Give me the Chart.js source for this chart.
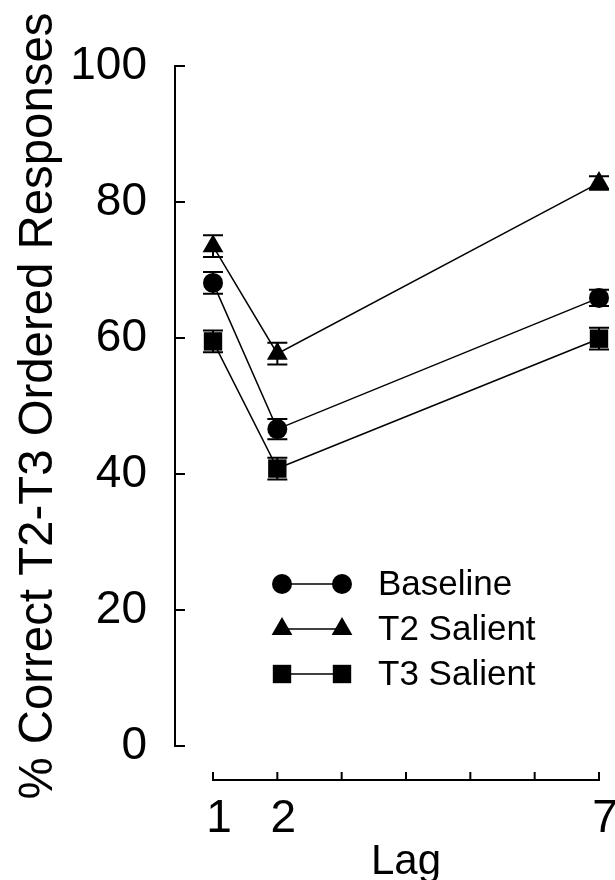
<!DOCTYPE html>
<html>
<head>
<meta charset="utf-8">
<script src="https://cdn.jsdelivr.net/npm/chart.js@4/dist/chart.umd.min.js"></script>
<style>
  html, body { margin: 0; padding: 0; background: #fff; }
  #wrap { width: 615px; height: 880px; }
</style>
</head>
<body>
<div id="wrap"><canvas id="chart" width="615" height="880"></canvas></div>
<script>
// Data
const lags = [1, 2, 7];
const xTicks = [1, 2, 3, 4, 5, 6, 7];
const xLabelled = [1, 2, 7];
const yTicks = [0, 20, 40, 60, 80, 100];

const seriesNames = ['Baseline', 'T2 Salient', 'T3 Salient'];
const baseline = [68.1, 46.6, 65.9];
const t2Salient = [73.5, 57.7, 82.8];
const t3Salient = [59.5, 40.8, 59.9];
const baselineErr = [1.6, 1.5, 1.2];
const t2SalientErr = [1.6, 1.6, 1.0];
const t3SalientErr = [1.6, 1.6, 1.6];

const FONT = '"Liberation Sans", Arial, sans-serif';

function toPoints(values) {
    return values.map((v, i) => ({ x: lags[i], y: v }));
}

function makeDataset(label, values, errors, style, radius) {
    return {
        label: label,
        data: toPoints(values),
        errors: errors,
        borderColor: '#000',
        borderWidth: 1.5,
        backgroundColor: '#000',
        pointStyle: style,
        pointRadius: radius,
        pointBackgroundColor: '#000',
        pointBorderColor: '#000',
        pointBorderWidth: 0,
        tension: 0,
        clip: false
    };
}

// marker shapes like Chart.js' own point styles, for the legend
function drawMarker(ctx, style, x, y, r) {
    ctx.beginPath();
    if (style === 'circle') {
        ctx.arc(x, y, r, 0, Math.PI * 2);
    } else if (style === 'triangle') {
        ctx.moveTo(x, y - r);
        ctx.lineTo(x + r * Math.sin(Math.PI * 2 / 3), y + r / 2);
        ctx.lineTo(x - r * Math.sin(Math.PI * 2 / 3), y + r / 2);
        ctx.closePath();
    } else {
        const s = r * Math.SQRT1_2;
        ctx.rect(x - s, y - s, 2 * s, 2 * s);
    }
    ctx.fill();
}

const figurePlugin = {
    id: 'figure',
    beforeDatasetsDraw(chart) {
        const ctx = chart.ctx;
        const xs = chart.scales.x;
        const ys = chart.scales.y;
        const area = chart.chartArea;
        ctx.save();
        ctx.strokeStyle = '#000';
        ctx.lineWidth = 2;
        ctx.lineCap = 'butt';

        // detached y axis
        const ax = area.left - 38;
        ctx.beginPath();
        ctx.moveTo(ax, ys.getPixelForValue(100));
        ctx.lineTo(ax, ys.getPixelForValue(0));
        yTicks.forEach(t => {
            const py = ys.getPixelForValue(t);
            ctx.moveTo(ax - 1, py);
            ctx.lineTo(ax + 10, py);
        });
        ctx.stroke();

        // detached x axis
        const ay = area.bottom + 34;
        ctx.beginPath();
        ctx.moveTo(xs.getPixelForValue(1) - 1, ay);
        ctx.lineTo(xs.getPixelForValue(7) + 1, ay);
        xTicks.forEach(t => {
            const px = xs.getPixelForValue(t);
            ctx.moveTo(px, ay + 1);
            ctx.lineTo(px, ay - 8);
        });
        ctx.stroke();

        // y axis title
        const title = '% Correct T2-T3 Ordered Responses';
        ctx.font = '48px ' + FONT;
        ctx.fillStyle = '#000';
        ctx.textAlign = 'center';
        ctx.textBaseline = 'alphabetic';
        const w = ctx.measureText(title).width;
        ctx.translate(52, 406);
        ctx.rotate(-Math.PI / 2);
        ctx.scale(787 / w, 1);
        ctx.fillText(title, 0, 0);
        ctx.restore();
    },
    afterDatasetsDraw(chart) {
        const ctx = chart.ctx;
        const xs = chart.scales.x;
        const ys = chart.scales.y;
        ctx.save();
        ctx.strokeStyle = '#000';
        ctx.lineWidth = 2;
        chart.data.datasets.forEach(ds => {
            ds.data.forEach((p, i) => {
                const e = ds.errors[i];
                const px = xs.getPixelForValue(p.x);
                const top = ys.getPixelForValue(p.y + e);
                const bot = ys.getPixelForValue(p.y - e);
                ctx.beginPath();
                ctx.moveTo(px, top);
                ctx.lineTo(px, bot);
                ctx.moveTo(px - 10, top);
                ctx.lineTo(px + 10, top);
                ctx.moveTo(px - 10, bot);
                ctx.lineTo(px + 10, bot);
                ctx.stroke();
            });
        });

        // legend: marker - line - marker, then label
        const rowY = [584, 629, 674];
        ctx.font = '35px ' + FONT;
        ctx.fillStyle = '#000';
        ctx.textAlign = 'left';
        ctx.textBaseline = 'middle';
        chart.data.datasets.forEach((ds, i) => {
            const y = rowY[i];
            ctx.lineWidth = 1.5;
            ctx.beginPath();
            ctx.moveTo(282, y);
            ctx.lineTo(342, y);
            ctx.stroke();
            drawMarker(ctx, ds.pointStyle, 282, y, ds.pointRadius);
            drawMarker(ctx, ds.pointStyle, 342, y, ds.pointRadius);
            ctx.fillText(ds.label, 378, y + 1);
        });
        ctx.restore();
    }
};

new Chart(document.getElementById('chart'), {
    type: 'line',
    data: {
        datasets: [
            makeDataset(seriesNames[0], baseline, baselineErr, 'circle', 10),
            makeDataset(seriesNames[1], t2Salient, t2SalientErr, 'triangle', 12),
            makeDataset(seriesNames[2], t3Salient, t3SalientErr, 'rect', 13)
        ]
    },
    options: {
        responsive: false,
        animation: false,
        devicePixelRatio: 1,
        layout: { autoPadding: false, padding: { top: 66, right: 16, left: 0, bottom: 0 } },
        plugins: {
            legend: { display: false },
            tooltip: { enabled: false }
        },
        scales: {
            x: {
                type: 'linear',
                min: 1,
                max: 7,
                afterBuildTicks: scale => { scale.ticks = xTicks.map(v => ({ value: v })); },
                afterFit: scale => {
                    scale.height = 134;
                    scale.paddingLeft = 0;
                    scale.paddingRight = 0;
                },
                grid: { display: false, drawTicks: false },
                border: { display: false },
                ticks: {
                    autoSkip: false,
                    maxRotation: 0,
                    padding: 46,
                    labelOffset: 6,
                    color: '#000',
                    font: { family: FONT, size: 46 },
                    callback: v => xLabelled.includes(v) ? String(v) : ''
                },
                title: {
                    display: true,
                    text: 'Lag',
                    color: '#000',
                    font: { family: FONT, size: 42, lineHeight: 0.82 },
                    padding: { top: 0, bottom: 0 }
                }
            },
            y: {
                min: 0,
                max: 100,
                afterBuildTicks: scale => { scale.ticks = yTicks.map(v => ({ value: v })); },
                afterFit: scale => {
                    scale.width = 213;
                    scale.paddingTop = 0;
                    scale.paddingBottom = 0;
                },
                grid: { display: false, drawTicks: false },
                border: { display: false },
                ticks: {
                    padding: 66,
                    color: '#000',
                    font: { family: FONT, size: 46 }
                }
            }
        }
    },
    plugins: [figurePlugin]
});
</script>
</body>
</html>
